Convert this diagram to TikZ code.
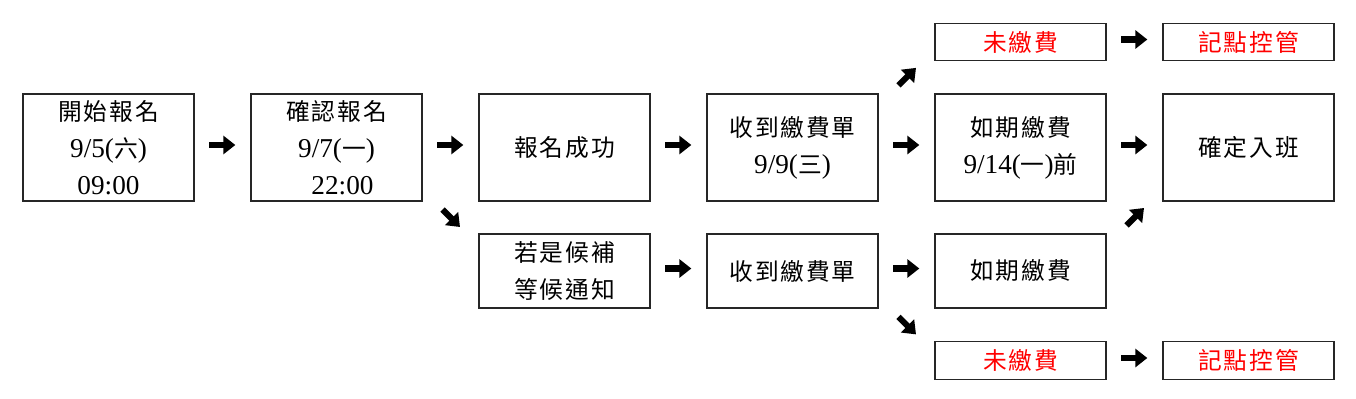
\documentclass[tikz,border=0pt]{standalone}
\usepackage{fontspec}
\setmainfont{Liberation Serif}
\newfontfamily\cjk[LetterSpace=8]{Noto Sans CJK TC}
\newcommand{\zh}[1]{{\cjk\fontsize{13.5pt}{21pt}\selectfont #1}}
\usetikzlibrary{calc,arrows.meta}

\begin{document}
\begin{tikzpicture}[x=0.02cm, y=-0.02cm, line cap=butt, line join=miter,
  box/.style={draw=black!85, line width=0.7pt, minimum width=3.42cm, inner sep=0pt,
    align=center, font=\fontsize{15.5pt}{21pt}\selectfont},
  tall/.style={box, minimum height=2.14cm},
  mid/.style={box, minimum height=1.48cm},
  flat/.style={box, minimum height=0.75cm},
  alert/.style={text=red},
  bigarrow/.style={line width=3.5pt, -{Triangle[length=0.24cm 0 0, width=0.36cm 0 0]}}]
  % --- Frame (pixel grid, y downwards) ---
  \useasboundingbox (0,0) rectangle (1356,399);

  % --- Main row ---
  \node[tall] (start)    at (108.5,147.5) {\zh{開始報名}\\9/5(\zh{六})\\09:00};
  \node[tall] (confirm)  at (336.5,147.5) {\zh{確認報名}\\9/7(\zh{一})\\\hspace*{0.24cm}22:00};
  \node[tall] (success)  at (564.5,147.5) {\zh{報名成功}};
  \node[tall] (bill)     at (792.5,147.5) {\zh{收到繳費單}\\9/9(\zh{三})};
  \node[tall] (paid)     at (1020.5,147.5) {\zh{如期繳費}\\9/14(\zh{一})\zh{前}};
  \node[tall] (enrolled) at (1248.5,147.5) {\zh{確定入班}};

  % --- Waiting list row ---
  \node[mid] (waitlist) at (564.5,271) {\zh{若是候補}\\\zh{等候通知}};
  \node[mid] (billb)    at (792.5,271) {\zh{收到繳費單}};
  \node[mid] (paidb)    at (1020.5,271) {\zh{如期繳費}};

  % --- Unpaid rows ---
  \node[flat, alert] (unpaid)   at (1020.5,42) {\zh{未繳費}};
  \node[flat, alert] (penalty)  at (1248.5,42) {\zh{記點控管}};
  \node[flat, alert] (unpaidb)  at (1020.5,360.5) {\zh{未繳費}};
  \node[flat, alert] (penaltyb) at (1248.5,360.5) {\zh{記點控管}};

  % --- Straight arrows ---
  \foreach \a/\b in {start/confirm, confirm/success, success/bill, bill/paid,
    paid/enrolled, waitlist/billb, billb/paidb, unpaid/penalty, unpaidb/penaltyb}
    \draw[bigarrow] ($(\a.east)!0.26!(\b.west)+(0,-2.5)$) -- ($(\a.east)!0.73!(\b.west)+(0,-2.5)$);

  % --- Diagonal arrows (down) ---
  \foreach \a/\b in {confirm/waitlist, billb/unpaidb}
    \draw[bigarrow] ($(\a.south east)!0.5!(\b.north west)+(-8,-8)$) -- ($(\a.south east)!0.5!(\b.north west)+(9.5,9.5)$);

  % --- Diagonal arrows (up) ---
  \foreach \a/\b in {bill/unpaid, paidb/enrolled}
    \draw[bigarrow] ($(\a.north east)!0.5!(\b.south west)+(-8,8)$) -- ($(\a.north east)!0.5!(\b.south west)+(9.5,-9.5)$);
\end{tikzpicture}
\end{document}
